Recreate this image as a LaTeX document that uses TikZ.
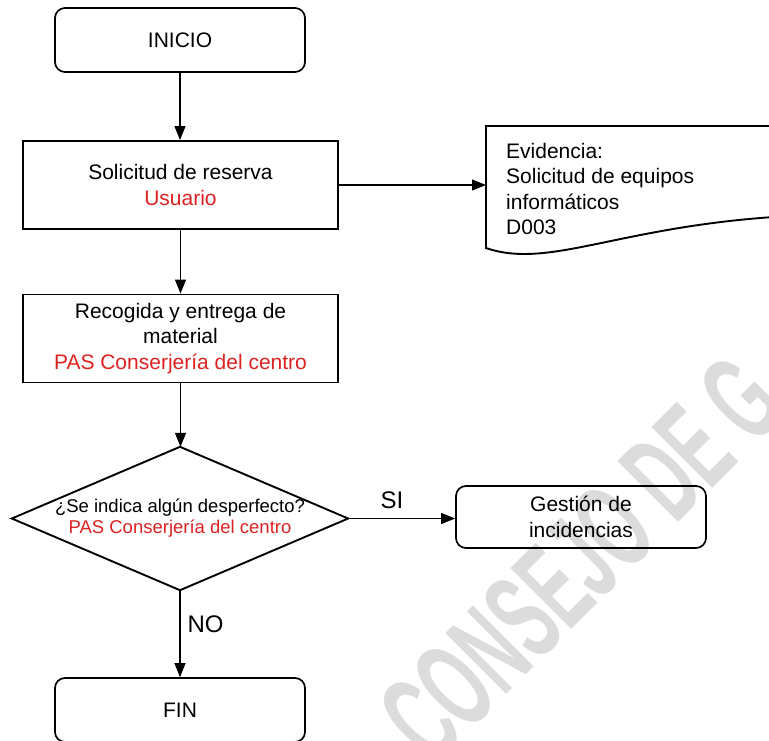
\documentclass[tikz,border=0pt]{standalone}
\usepackage{fontspec}
\setmainfont{Liberation Sans}
\usetikzlibrary{arrows.meta}
\definecolor{rojo}{HTML}{DD2222}
\definecolor{wmgray}{HTML}{DCDCDC}
\begin{document}
\begin{tikzpicture}[x=1pt,y=-1pt,
  base/.style={font=\fontsize{21}{25.5}\selectfont, align=center, inner sep=0pt},
  term/.style={base, draw, line width=1.7pt, rounded corners=10pt, minimum width=250pt, minimum height=64pt},
  proc/.style={base, draw, line width=1.9pt, minimum width=315pt, minimum height=88pt},
  arr/.style={line width=1.2pt, -{Triangle[length=14pt,width=11pt]}},
  lbl/.style={font=\fontsize{24}{24}\selectfont, inner sep=0pt},
  wmark/.style={text=wmgray, font=\bfseries\fontsize{125}{125}\selectfont, inner sep=0pt}]
\clip (0,0) rectangle (769,740);
\fill[white] (0,0) rectangle (769,740);
% watermark
\node[wmark, rotate=45, anchor=base west] (wm) at (433,768) {\scalebox{0.53}[1]{CONSEJO DE G}};
% nodes
\node[term] (inicio) at (180,40) {INICIO};
\node[proc] (sol) at (180.5,185) {Solicitud de reserva\\\textcolor{rojo}{Usuario}};
\node[proc] (rec) at (180.5,338.5) {Recogida y entrega de\\material\\\textcolor{rojo}{PAS Conserjería del centro}};
\node[base, font=\fontsize{18.5}{21}\selectfont, minimum width=336pt, minimum height=143pt] (dia) at (180,518.5) {¿Se indica algún desperfecto?\\\textcolor{rojo}{PAS Conserjería del centro}};
\draw[line width=1.9pt, line join=miter] (dia.north) -- (dia.east) -- (dia.south) -- (dia.west) -- cycle;
\node[term, minimum height=62pt] (ges) at (581,517) {Gestión de\\incidencias};
\node[term] (fin) at (180,710) {FIN};
% document shape
\node[inner sep=0pt, minimum width=300pt, minimum height=124pt, anchor=north west] (ev) at (486,126) {};
\draw[line width=1.9pt] (ev.north east) -- (ev.north west) -- (486,248) .. controls (550,270) and (620,225) .. (790,216);
\node[base, align=left, anchor=north west] (evtxt) at (506,143) {Evidencia:\\Solicitud de equipos\\informáticos\\D003};
% connectors
\draw[arr] (inicio.south) -- (inicio.south |- sol.north);
\draw[arr] (sol.south) -- (rec.north);
\draw[arr] (rec.south) -- (rec.south |- dia.north);
\draw[arr] (sol.east) -- (sol.east -| ev.west);
\draw[arr] (dia.east) -- node[lbl, pos=0.41, above=9pt] (si) {SI} (dia.east -| ges.west);
\draw[arr] (dia.south) -- node[lbl, pos=0.386, right=7pt] (no) {NO} (dia.south |- fin.north);
\end{tikzpicture}
\end{document}
